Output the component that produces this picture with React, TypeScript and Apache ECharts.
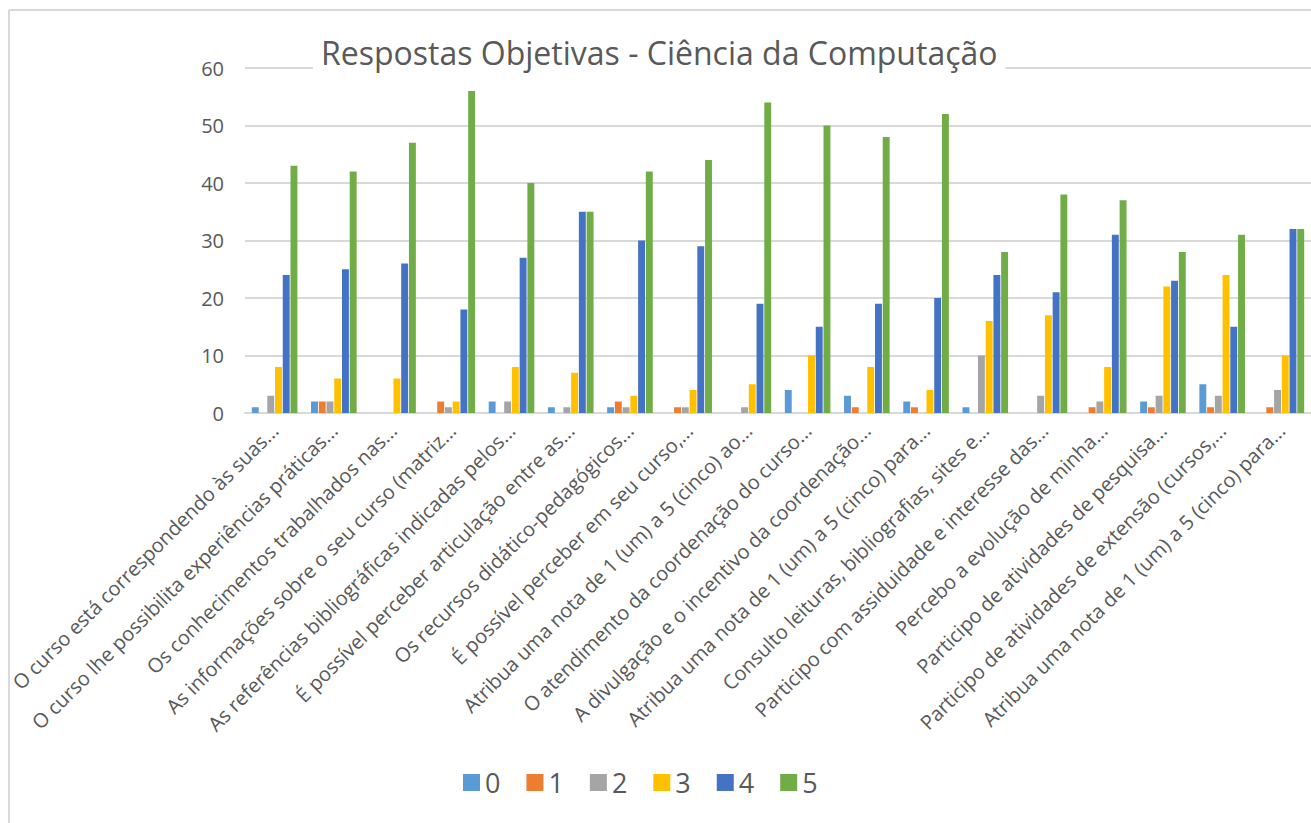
import React, { useEffect, useRef } from "react";
import * as echarts from "echarts";

const categories = [
  "O curso está correspondendo às suas...",
  "O curso lhe possibilita experiências práticas...",
  "Os conhecimentos trabalhados nas...",
  "As informações sobre o seu curso (matriz...",
  "As referências bibliográficas indicadas pelos...",
  "É possível perceber articulação entre as...",
  "Os recursos didático-pedagógicos...",
  "É possível perceber em seu curso,...",
  "Atribua uma nota de 1 (um) a 5 (cinco) ao...",
  "O atendimento da coordenação do curso...",
  "A divulgação e o incentivo da coordenação...",
  "Atribua uma nota de 1 (um) a 5 (cinco) para...",
  "Consulto leituras, bibliografias, sites e...",
  "Participo com assiduidade e interesse das...",
  "Percebo a evolução de minha...",
  "Participo de atividades de pesquisa...",
  "Participo de atividades de extensão (cursos,...",
  "Atribua uma nota de 1 (um) a 5 (cinco) para...",
];

const seriesNames = ["0", "1", "2", "3", "4", "5"];

const values0 = [1, 2, 0, 0, 2, 1, 1, 0, 0, 4, 3, 2, 1, 0, 0, 2, 5, 0];
const values1 = [0, 2, 0, 2, 0, 0, 2, 1, 0, 0, 1, 1, 0, 0, 1, 1, 1, 1];
const values2 = [3, 2, 0, 1, 2, 1, 1, 1, 1, 0, 0, 0, 10, 3, 2, 3, 3, 4];
const values3 = [8, 6, 6, 2, 8, 7, 3, 4, 5, 10, 8, 4, 16, 17, 8, 22, 24, 10];
const values4 = [24, 25, 26, 18, 27, 35, 30, 29, 19, 15, 19, 20, 24, 21, 31, 23, 15, 32];
const values5 = [43, 42, 47, 56, 40, 35, 42, 44, 54, 50, 48, 52, 28, 38, 37, 28, 31, 32];

const yTicks = [0, 10, 20, 30, 40, 50, 60];

const colors = ["#5B9BD5", "#ED7D31", "#A5A5A5", "#FFC000", "#4472C4", "#70AD47"];

const FONT = "'Open Sans', sans-serif";
const TEXT = "#595959";

export default function App() {
  const ref = useRef<HTMLDivElement>(null);
  useEffect(() => {
    if (!ref.current) return;
    const chart = echarts.init(ref.current, undefined, { renderer: "svg" });
    const all = [values0, values1, values2, values3, values4, values5];
    chart.setOption({
      animation: false,
      backgroundColor: "#ffffff",
      color: colors,
      textStyle: { fontFamily: FONT },
      title: {
        text: "Respostas Objetivas - Ciência da Computação",
        left: 313,
        top: 32,
        backgroundColor: "#ffffff",
        padding: [4, 8],
        textStyle: { fontFamily: FONT, fontSize: 32, fontWeight: "normal", color: TEXT },
      },
      legend: {
        data: seriesNames,
        left: 458,
        top: 764,
        itemWidth: 17,
        itemHeight: 17,
        itemGap: 26,
        icon: "rect",
        textStyle: { fontFamily: FONT, fontSize: 27, color: TEXT },
      },
      grid: { left: 245, top: 68, width: 1080, height: 345, containLabel: false },
      xAxis: {
        type: "category",
        data: categories,
        axisLine: { show: true, lineStyle: { color: "#D9D9D9", width: 2 } },
        axisTick: { show: false },
        axisLabel: {
          interval: 0,
          rotate: 45,
          margin: 14,
          fontSize: 20,
          color: TEXT,
          fontFamily: FONT,
        },
      },
      yAxis: {
        type: "value",
        min: yTicks[0],
        max: yTicks[yTicks.length - 1],
        interval: 10,
        axisLine: { show: false },
        axisTick: { show: false },
        splitLine: { lineStyle: { color: "#D9D9D9", width: 2 } },
        axisLabel: { margin: 21, fontSize: 20, color: TEXT, fontFamily: FONT },
      },
      series: seriesNames.map((name, i) => ({
        name,
        type: "bar",
        data: all[i],
        barGap: "12%",
        barCategoryGap: "23%",
        itemStyle: { color: colors[i] },
      })),
      graphic: [
        { type: "line", shape: { x1: 9, y1: 10, x2: 9, y2: 823 }, style: { stroke: "#D9D9D9", lineWidth: 2 } },
        { type: "line", shape: { x1: 9, y1: 10, x2: 1311, y2: 10 }, style: { stroke: "#D9D9D9", lineWidth: 2 } },
      ],
    });
    return () => chart.dispose();
  }, []);
  return (
    <div
      ref={ref}
      style={{ position: "fixed", left: 0, top: 0, width: 1311, height: 823 }}
    />
  );
}
